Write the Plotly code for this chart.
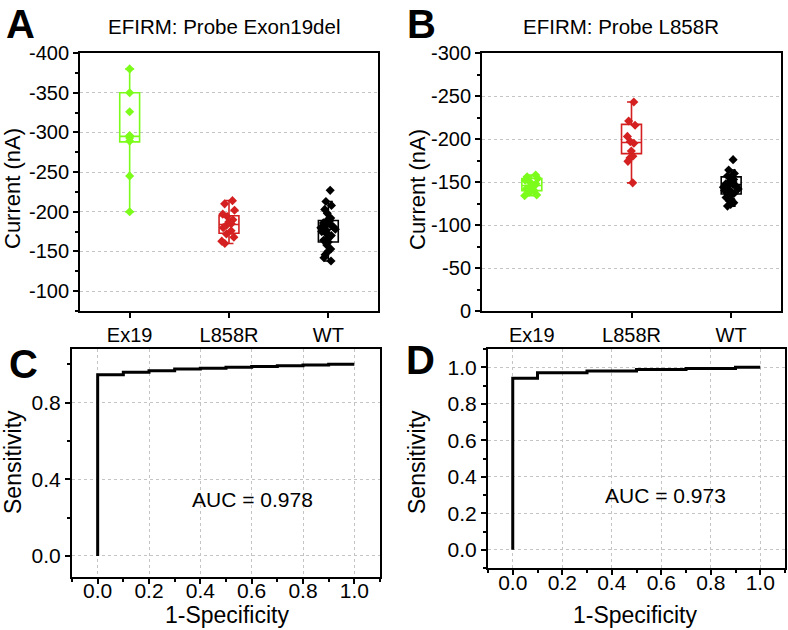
import plotly.graph_objects as go

# ---------------- data ----------------
categories = ["Ex19", "L858R", "WT"]
cat_pos = [1, 2, 3]

# Panel A: EFIRM probe Exon19del (nA)
a_ex19 = [-380, -350, -326, -296, -293, -289, -245, -200]
a_l858r = [-214, -210, -202, -197, -194, -190, -187, -185, -183, -180, -176, -172, -168, -163, -160]
a_wt = [-227, -213, -208, -203, -198, -192, -190, -189, -188, -186, -184, -182, -181, -180, -179,
        -178, -176, -175, -173, -171, -170, -168, -166, -164, -162, -158, -153, -150, -146, -142, -138]
# box statistics: (lower whisker, q1, median, q3, upper whisker)
a_stats = {
    "Ex19": (-380, -350, -295, -288, -200),
    "L858R": (-214, -195, -184, -173, -160),
    "WT": (-213, -189, -178, -162, -138),
}

# Panel B: EFIRM probe L858R (nA)
b_ex19 = [-158, -156, -154, -152, -150, -148, -146, -145, -144, -142, -140, -138, -135, -134]
b_l858r = [-243, -221, -216, -203, -197, -195, -186, -180, -178, -174, -149]
b_wt = [-176, -164, -160, -157, -155, -153, -151, -150, -149, -148, -147, -146, -145, -144, -143,
        -142, -141, -140, -139, -138, -137, -136, -134, -132, -130, -128, -126, -124, -122]
b_stats = {
    "Ex19": (-158, -154, -146, -140, -134),
    "L858R": (-243, -217, -196, -183, -149),
    "WT": (-164, -156, -147, -136, -122),
}

# ROC curves
c_fpr = [0, 0, 0.1, 0.2, 0.3, 0.4, 0.5, 0.6, 0.7, 0.8, 0.9, 1.0]
c_tpr = [0, 0.945, 0.958, 0.967, 0.975, 0.980, 0.985, 0.989, 0.993, 0.996, 1.0, 1.0]
d_fpr = [0, 0, 0.1, 0.3, 0.5, 0.7, 0.9, 1.0]
d_tpr = [0, 0.94, 0.97, 0.98, 0.987, 0.993, 1.0, 1.0]
auc_c = "AUC = 0.978"
auc_d = "AUC = 0.973"

a_ticks = [-400, -350, -300, -250, -200, -150, -100]
a_ticktext = ["-400", "-350", "-300", "-250", "-200", "-150", "-100"]
b_ticks = [-300, -250, -200, -150, -100, -50, 0]
b_ticktext = ["-300", "-250", "-200", "-150", "-100", "-50", "0"]

colors = {"Ex19": "#7CFC1A", "L858R": "#D42020", "WT": "#000000"}
FONT = "Liberation Sans, Arial, sans-serif"

fig = go.Figure()


def add_group(values, stats, cat, pos, xa, ya, jitter):
    col = colors[cat]
    lo, q1, med, q3, hi = stats
    fig.add_trace(go.Box(
        x=[pos], q1=[q1], median=[med], q3=[q3], lowerfence=[lo], upperfence=[hi],
        width=0.2, whiskerwidth=0.45, fillcolor="rgba(0,0,0,0)",
        line=dict(color=col, width=1.6), boxpoints=False,
        xaxis=xa, yaxis=ya, showlegend=False))
    fig.add_trace(go.Box(
        y=values, x0=pos, width=0.2, boxpoints="all", pointpos=0, jitter=jitter,
        fillcolor="rgba(0,0,0,0)", line=dict(color="rgba(0,0,0,0)", width=0),
        marker=dict(symbol="diamond", size=7, color=col),
        xaxis=xa, yaxis=ya, showlegend=False))


for vals, cat, pos, jit in [(a_ex19, "Ex19", 1, 0.0), (a_l858r, "L858R", 2, 0.8), (a_wt, "WT", 3, 0.8)]:
    add_group(vals, a_stats[cat], cat, pos, "x", "y", jit)
for vals, cat, pos, jit in [(b_ex19, "Ex19", 1, 0.8), (b_l858r, "L858R", 2, 0.5), (b_wt, "WT", 3, 0.8)]:
    add_group(vals, b_stats[cat], cat, pos, "x2", "y2", jit)

fig.add_trace(go.Scatter(x=c_fpr, y=c_tpr, mode="lines", line=dict(color="black", width=3, shape="hv"),
                         xaxis="x3", yaxis="y3", showlegend=False))
fig.add_trace(go.Scatter(x=d_fpr, y=d_tpr, mode="lines", line=dict(color="black", width=3, shape="hv"),
                         xaxis="x4", yaxis="y4", showlegend=False))

W, H = 788, 630


def fx(px):
    return px / W


def fy(py):
    return 1 - py / H


axis_common = dict(showline=True, linecolor="black", linewidth=2, mirror=True, zeroline=False,
                   automargin=False,
                   ticks="outside", ticklen=5, tickwidth=1.5, tickcolor="black",
                   tickfont=dict(size=20, color="black", family=FONT),
                   gridcolor="#c4c4c4", griddash="dot", gridwidth=1)

cat_x = dict(axis_common, range=[0.5, 3.5], tickmode="array", tickvals=cat_pos, ticktext=categories,
             showgrid=False)

roc_tick = dict(tickfont=dict(size=21, color="black", family=FONT), tickformat=".1f", showgrid=True, tick0=0)

axes = dict(
    xaxis=dict(cat_x, domain=[fx(80), fx(378)], anchor="y"),
    yaxis=dict(axis_common, domain=[fy(311), fy(53)], anchor="x", range=[-75, -400],
               tickmode="array", tickvals=a_ticks, ticktext=a_ticktext, showgrid=True,
               minor=dict(tickmode="linear", tick0=0, dtick=25, ticks="outside", ticklen=3,
                          tickcolor="black", showgrid=False)),
    xaxis2=dict(cat_x, domain=[fx(482), fx(781)], anchor="y2"),
    yaxis2=dict(axis_common, domain=[fy(311), fy(53)], anchor="x2", range=[0, -300],
                tickmode="array", tickvals=b_ticks, ticktext=b_ticktext, showgrid=True,
                minor=dict(tickmode="linear", tick0=0, dtick=25, ticks="outside", ticklen=3,
                           tickcolor="black", showgrid=False)),
    xaxis3=dict(axis_common, **roc_tick, domain=[fx(72), fx(380)], anchor="y3", range=[-0.1, 1.1],
                dtick=0.2, ticklabelstandoff=-11,
                minor=dict(tick0=0, dtick=0.1, ticks="outside", ticklen=3, tickcolor="black", showgrid=False)),
    yaxis3=dict(axis_common, **roc_tick, domain=[fy(577), fy(349)], anchor="x3", range=[-0.11, 1.08],
                dtick=0.4,
                minor=dict(tick0=0, dtick=0.2, ticks="outside", ticklen=3, tickcolor="black", showgrid=False)),
    xaxis4=dict(axis_common, **roc_tick, domain=[fx(488), fx(785)], anchor="y4", range=[-0.1, 1.1],
                dtick=0.2, ticklabelstandoff=-10,
                minor=dict(tick0=0, dtick=0.1, ticks="outside", ticklen=3, tickcolor="black", showgrid=False)),
    yaxis4=dict(axis_common, **roc_tick, domain=[fy(568), fy(349)], anchor="x4", range=[-0.1, 1.1],
                dtick=0.2,
                minor=dict(tick0=0, dtick=0.1, ticks="outside", ticklen=3, tickcolor="black", showgrid=False)),
)

# inward-pointing ticks on the opposite (top / right) sides, as in the original figure
mirror_axes = {}
for i, (xk, yk) in enumerate([("xaxis", "yaxis"), ("xaxis2", "yaxis2"), ("xaxis3", "yaxis3"),
                              ("xaxis4", "yaxis4")]):
    n = 5 + i
    bx, by = axes[xk], axes[yk]
    mx = dict(overlaying=("x" if i == 0 else f"x{i + 1}"),
              side="top", anchor=bx["anchor"], range=bx["range"], showline=False, showgrid=False,
              zeroline=False, showticklabels=False, ticks="inside", ticklen=5, tickwidth=1.5,
              tickcolor="black", automargin=False)
    my = dict(overlaying=("y" if i == 0 else f"y{i + 1}"),
              side="right", anchor=by["anchor"], range=by["range"], showline=False, showgrid=False,
              zeroline=False, showticklabels=False, ticks="inside", ticklen=5, tickwidth=1.5,
              tickcolor="black", automargin=False)
    for src, dst in ((bx, mx), (by, my)):
        for k in ("tickmode", "tickvals", "tick0", "dtick"):
            if k in src:
                dst[k] = src[k]
        if "minor" in src:
            m = dict(src["minor"])
            m["ticks"] = "inside"
            dst["minor"] = m
    mirror_axes[f"xaxis{n}"] = mx
    mirror_axes[f"yaxis{n}"] = my

fig.update_layout(
    width=W, height=H, margin=dict(l=0, r=0, t=0, b=0, autoexpand=False),
    paper_bgcolor="white", plot_bgcolor="white",
    font=dict(family=FONT, color="black", size=20),
    boxmode="overlay",
    **axes, **mirror_axes,
)

annotations = [
    dict(text="<b>A</b>", x=fx(20), y=fy(24), font=dict(size=40)),
    dict(text="<b>B</b>", x=fx(421), y=fy(24), font=dict(size=40)),
    dict(text="<b>C</b>", x=fx(23), y=fy(364), font=dict(size=40)),
    dict(text="<b>D</b>", x=fx(420), y=fy(360), font=dict(size=40)),
    dict(text="EFIRM: Probe Exon19del", x=fx(224), y=fy(27), font=dict(size=20.5)),
    dict(text="EFIRM: Probe L858R", x=fx(621), y=fy(27), font=dict(size=20.5)),
    dict(text="Current (nA)", x=fx(12), y=fy(189), font=dict(size=22), textangle=-90),
    dict(text="Current (nA)", x=fx(417), y=fy(189), font=dict(size=22), textangle=-90),
    dict(text="Sensitivity", x=fx(13), y=fy(462), font=dict(size=23), textangle=-90),
    dict(text="Sensitivity", x=fx(417), y=fy(462), font=dict(size=23), textangle=-90),
    dict(text="1-Specificity", x=fx(227), y=fy(615), font=dict(size=23)),
    dict(text="1-Specificity", x=fx(635), y=fy(615), font=dict(size=23)),
]
for a in annotations:
    a.update(xref="paper", yref="paper", showarrow=False, xanchor="center", yanchor="middle")
annotations.append(dict(text=auc_c, x=0.605, y=0.293, xref="x3", yref="y3", showarrow=False,
                        font=dict(size=21)))
annotations.append(dict(text=auc_d, x=0.617, y=0.295, xref="x4", yref="y4", showarrow=False,
                        font=dict(size=21)))
fig.update_layout(annotations=annotations)

fig.write_html("out.html", config={"displayModeBar": False},
               post_script="document.body.style.margin='0';")
